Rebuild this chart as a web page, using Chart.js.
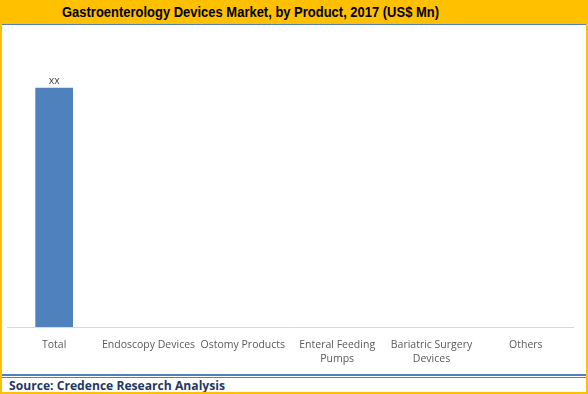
<!DOCTYPE html>
<html>
<head>
<meta charset="utf-8">
<script src="https://cdn.jsdelivr.net/npm/chart.js@4.4.1/dist/chart.umd.min.js"></script>
<style>
  html, body { margin: 0; padding: 0; background: #fff; }
  #wrap { position: relative; width: 588px; height: 394px; overflow: hidden; background: #fff; }
  #header { position: absolute; left: 0; top: 0; width: 588px; height: 24px; background: #FFC000; }
  #hline { position: absolute; left: 2px; top: 24px; width: 584px; height: 1px; background: #4F81BD; }
  #title { position: absolute; left: 62px; top: 3px; white-space: nowrap; font-family: "Liberation Sans", Arial, sans-serif; font-weight: bold; font-size: 15px; color: #000; transform-origin: 0 0; line-height: 18px; }
  #lborder { position: absolute; left: 0; top: 24px; width: 2px; height: 370px; background: #FFC000; }
  #rborder { position: absolute; left: 586px; top: 24px; width: 2px; height: 370px; background: #FFC000; }
  #bborder { position: absolute; left: 0; top: 392px; width: 588px; height: 2px; background: #FFC000; }
  #f1 { position: absolute; left: 2px; top: 374px; width: 584px; height: 2px; background: #4F81BD; }
  #f2 { position: absolute; left: 2px; top: 377px; width: 584px; height: 1px; background: #4F81BD; }
  #source { position: absolute; left: 9px; top: 378px; white-space: nowrap; font-family: "Open Sans", sans-serif; font-weight: bold; font-size: 11.5px; color: #1F3864; transform-origin: 0 0; line-height: 15px; }
  #cv { position: absolute; left: 0; top: 25px; }
</style>
</head>
<body>
<div id="wrap">
  <canvas id="cv" width="588" height="349"></canvas>
  <div id="header"></div>
  <div id="hline"></div>
  <div id="title">Gastroenterology Devices Market, by Product, 2017 (US$ Mn)</div>
  <div id="lborder"></div>
  <div id="rborder"></div>
  <div id="f1"></div>
  <div id="f2"></div>
  <div id="source">Source: Credence Research Analysis</div>
  <div id="bborder"></div>
</div>
<script>
const categories = ["Total", "Endoscopy Devices", "Ostomy Products", ["Enteral Feeding", "Pumps"], ["Bariatric Surgery", "Devices"], "Others"];
const values = [100, null, null, null, null, null];
const dataLabels = ["xx", "", "", "", "", ""];

function fitWidth(id, w) {
  const el = document.getElementById(id);
  const cur = el.getBoundingClientRect().width;
  el.style.transform = "scaleX(" + (w / cur) + ")";
}
fitWidth("title", 377);
fitWidth("source", 216);

const labelPlugin = {
  id: "valueLabels",
  afterDatasetsDraw(chart) {
    const ctx = chart.ctx;
    const meta = chart.getDatasetMeta(0);
    ctx.save();
    ctx.font = "10.5px 'Open Sans', sans-serif";
    ctx.fillStyle = "#404040";
    ctx.textAlign = "center";
    ctx.textBaseline = "bottom";
    meta.data.forEach((bar, i) => {
      if (values[i] == null || !dataLabels[i]) return;
      ctx.fillText(dataLabels[i], bar.x, bar.y - 2);
    });
    ctx.restore();
  }
};

new Chart(document.getElementById("cv"), {
  type: "bar",
  data: {
    labels: categories,
    datasets: [{
      data: values,
      backgroundColor: "#4F81BD",
      borderWidth: 0,
      barPercentage: 0.4,
      categoryPercentage: 1.0
    }]
  },
  options: {
    responsive: false,
    animation: false,
    layout: { padding: { left: 7, right: 15, top: 15, bottom: 0 } },
    plugins: { legend: { display: false }, tooltip: { enabled: false } },
    scales: {
      x: {
        grid: { display: false, drawTicks: false },
        border: { display: true, color: "#D9D9D9", width: 1 },
        ticks: {
          color: "#595959",
          font: { family: "'Open Sans', sans-serif", size: 10.5, lineHeight: 1.35 },
          padding: 11,
          maxRotation: 0,
          autoSkip: false
        },
        afterFit(scale) { scale.height = 47; }
      },
      y: {
        display: false,
        min: 0,
        max: 120
      }
    }
  },
  plugins: [labelPlugin]
});
</script>
</body>
</html>
